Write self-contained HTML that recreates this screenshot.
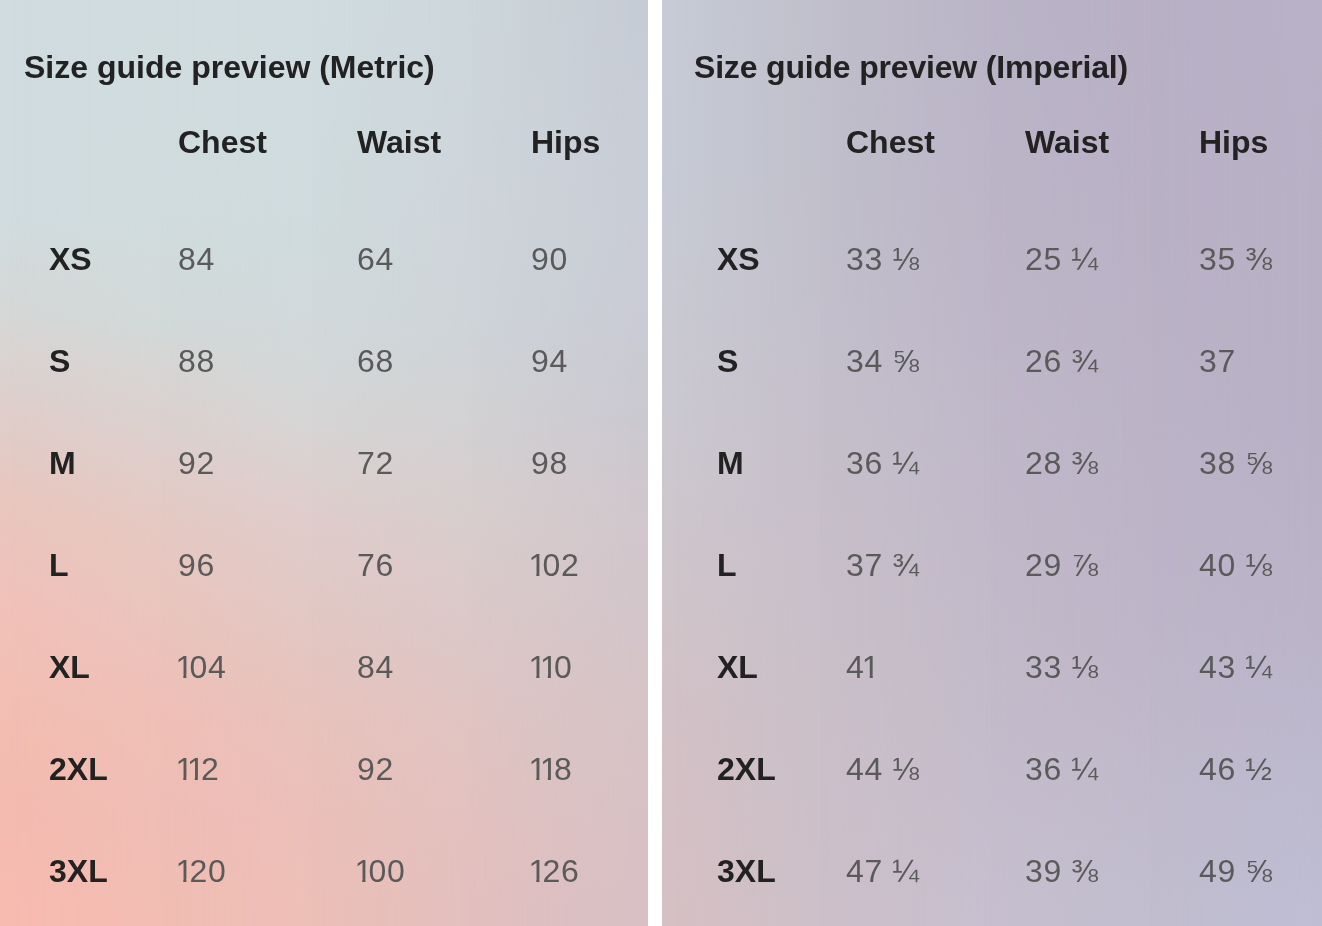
<!DOCTYPE html>
<html><head><meta charset="utf-8"><style>
html,body{margin:0;padding:0;width:1322px;height:926px;overflow:hidden;background:#fff}
.pn{position:absolute;top:0;height:926px;overflow:hidden}
.g{position:absolute;left:0;top:0;width:100%;height:100%}
.b,.v{position:absolute;will-change:transform;font-family:"Liberation Sans",sans-serif;font-size:32px;line-height:normal;white-space:nowrap}
.b{font-weight:bold;color:#222}
.v{font-weight:normal;color:#5a5a5a;letter-spacing:0.6px}
.o{display:inline-block;width:11.5px;text-indent:-2.6px;letter-spacing:0;clip-path:polygon(-20px -20px,40px -20px,40px 26px,8.4px 26px,8.4px 50px,5.3px 50px,5.3px 26px,-20px 26px)}
</style></head><body>
<div class="pn" style="left:0px;width:648px"><div class="g" style="background:linear-gradient(to bottom,#d0dcdf 1.08%,#d0dcdf 22.68%,#d6d7d6 34.56%,#e0cdc9 45.36%,#eac5bd 56.16%,#f1c1b8 66.95%,#f3bdb2 77.75%,#f4bbb0 88.55%,#f8bbb0 98.27%)"></div><div class="g" style="background:linear-gradient(to bottom,#d0dcdf 1.08%,#d0dcdd 22.68%,#d2d9d9 34.56%,#dbd1cf 45.36%,#e5c9c3 56.16%,#eac4bd 66.95%,#efbfb6 77.75%,#f0bdb5 88.55%,#f2bdb3 98.27%);-webkit-mask-image:linear-gradient(to right,transparent 1.54%,#000 24.69%);mask-image:linear-gradient(to right,transparent 1.54%,#000 24.69%)"></div><div class="g" style="background:linear-gradient(to bottom,#d0dcdf 1.08%,#cfdbdd 22.68%,#d1d9db 34.56%,#d6d5d5 45.36%,#dfcccb 56.16%,#e2c7c3 66.95%,#e8c2bc 77.75%,#ebbfb9 88.55%,#ecbfb7 98.27%);-webkit-mask-image:linear-gradient(to right,transparent 24.69%,#000 47.84%);mask-image:linear-gradient(to right,transparent 24.69%,#000 47.84%)"></div><div class="g" style="background:linear-gradient(to bottom,#cdd7db 1.08%,#ced5da 22.68%,#ced4d8 34.56%,#d2d1d3 45.36%,#d8cdcd 56.16%,#dbc8c8 66.95%,#e0c4c2 77.75%,#e2c1bf 88.55%,#e2bfbe 98.27%);-webkit-mask-image:linear-gradient(to right,transparent 47.84%,#000 72.53%);mask-image:linear-gradient(to right,transparent 47.84%,#000 72.53%)"></div><div class="g" style="background:linear-gradient(to bottom,#c6ccd5 1.08%,#c9cdd6 22.68%,#cacbd5 34.56%,#cbc9d0 45.36%,#d1c7cc 56.16%,#d3c5ca 66.95%,#d6c3c6 77.75%,#d8c1c4 88.55%,#d8c0c4 98.27%);-webkit-mask-image:linear-gradient(to right,transparent 72.53%,#000 97.22%);mask-image:linear-gradient(to right,transparent 72.53%,#000 97.22%)"></div></div>
<div class="pn" style="left:662px;width:660px"><div class="g" style="background:linear-gradient(to bottom,#c6cbd5 1.08%,#c7cad4 22.68%,#c9c9d2 34.56%,#cbc8d0 45.36%,#d0c4c9 66.95%,#d2c1c6 77.75%,#d5c0c4 98.27%)"></div><div class="g" style="background:linear-gradient(to bottom,#c0bfcb 1.08%,#c1bfcb 22.68%,#c3bfcc 34.56%,#c5bfcb 45.36%,#c9bfc9 66.95%,#cbbfc8 77.75%,#cdbfc8 98.27%);-webkit-mask-image:linear-gradient(to right,transparent 1.97%,#000 23.94%);mask-image:linear-gradient(to right,transparent 1.97%,#000 23.94%)"></div><div class="g" style="background:linear-gradient(to bottom,#bab4c7 1.08%,#bcb5c7 22.68%,#bdb6c8 34.56%,#bfb8c9 45.36%,#c2bac9 66.95%,#c3bbca 77.75%,#c6bfcf 98.27%);-webkit-mask-image:linear-gradient(to right,transparent 23.94%,#000 49.70%);mask-image:linear-gradient(to right,transparent 23.94%,#000 49.70%)"></div><div class="g" style="background:linear-gradient(to bottom,#b8b0c5 1.08%,#b9b1c5 22.68%,#bab2c5 34.56%,#bbb3c6 45.36%,#bdb5c8 66.95%,#bfb8ca 77.75%,#c1bdce 98.27%);-webkit-mask-image:linear-gradient(to right,transparent 49.70%,#000 73.94%);mask-image:linear-gradient(to right,transparent 49.70%,#000 73.94%)"></div><div class="g" style="background:linear-gradient(to bottom,#b8b1c7 1.08%,#b8b1c6 22.68%,#b8b1c6 34.56%,#b8b1c6 45.36%,#bbb4c9 66.95%,#bcb7cc 77.75%,#bebdd3 98.27%);-webkit-mask-image:linear-gradient(to right,transparent 73.94%,#000 98.18%);mask-image:linear-gradient(to right,transparent 73.94%,#000 98.18%)"></div></div>
<div class="b" style="left:24px;top:49px;">Size guide preview (Metric)</div><div class="b" style="left:178px;top:124px;">Chest</div><div class="b" style="left:357px;top:124px;">Waist</div><div class="b" style="left:531px;top:124px;">Hips</div><div class="b" style="left:49px;top:241px;">XS</div><div class="v" style="left:178px;top:241px;">84</div><div class="v" style="left:357px;top:241px;">64</div><div class="v" style="left:531px;top:241px;">90</div><div class="b" style="left:49px;top:343px;">S</div><div class="v" style="left:178px;top:343px;">88</div><div class="v" style="left:357px;top:343px;">68</div><div class="v" style="left:531px;top:343px;">94</div><div class="b" style="left:49px;top:445px;">M</div><div class="v" style="left:178px;top:445px;">92</div><div class="v" style="left:357px;top:445px;">72</div><div class="v" style="left:531px;top:445px;">98</div><div class="b" style="left:49px;top:547px;">L</div><div class="v" style="left:178px;top:547px;">96</div><div class="v" style="left:357px;top:547px;">76</div><div class="v" style="left:531px;top:547px;"><span class="o">1</span>02</div><div class="b" style="left:49px;top:649px;">XL</div><div class="v" style="left:178px;top:649px;"><span class="o">1</span>04</div><div class="v" style="left:357px;top:649px;">84</div><div class="v" style="left:531px;top:649px;"><span class="o">1</span><span class="o">1</span>0</div><div class="b" style="left:49px;top:751px;">2XL</div><div class="v" style="left:178px;top:751px;"><span class="o">1</span><span class="o">1</span>2</div><div class="v" style="left:357px;top:751px;">92</div><div class="v" style="left:531px;top:751px;"><span class="o">1</span><span class="o">1</span>8</div><div class="b" style="left:49px;top:853px;">3XL</div><div class="v" style="left:178px;top:853px;"><span class="o">1</span>20</div><div class="v" style="left:357px;top:853px;"><span class="o">1</span>00</div><div class="v" style="left:531px;top:853px;"><span class="o">1</span>26</div>
<div class="b" style="left:693.5px;top:49px;letter-spacing:-0.18px">Size guide preview (Imperial)</div><div class="b" style="left:846px;top:124px;">Chest</div><div class="b" style="left:1025px;top:124px;">Waist</div><div class="b" style="left:1199px;top:124px;">Hips</div><div class="b" style="left:717px;top:241px;">XS</div><div class="v" style="left:846px;top:241px;">33 ⅛</div><div class="v" style="left:1025px;top:241px;">25 ¼</div><div class="v" style="left:1199px;top:241px;">35 ⅜</div><div class="b" style="left:717px;top:343px;">S</div><div class="v" style="left:846px;top:343px;">34 ⅝</div><div class="v" style="left:1025px;top:343px;">26 ¾</div><div class="v" style="left:1199px;top:343px;">37</div><div class="b" style="left:717px;top:445px;">M</div><div class="v" style="left:846px;top:445px;">36 ¼</div><div class="v" style="left:1025px;top:445px;">28 ⅜</div><div class="v" style="left:1199px;top:445px;">38 ⅝</div><div class="b" style="left:717px;top:547px;">L</div><div class="v" style="left:846px;top:547px;">37 ¾</div><div class="v" style="left:1025px;top:547px;">29 ⅞</div><div class="v" style="left:1199px;top:547px;">40 ⅛</div><div class="b" style="left:717px;top:649px;">XL</div><div class="v" style="left:846px;top:649px;">4<span class="o">1</span></div><div class="v" style="left:1025px;top:649px;">33 ⅛</div><div class="v" style="left:1199px;top:649px;">43 ¼</div><div class="b" style="left:717px;top:751px;">2XL</div><div class="v" style="left:846px;top:751px;">44 ⅛</div><div class="v" style="left:1025px;top:751px;">36 ¼</div><div class="v" style="left:1199px;top:751px;">46 ½</div><div class="b" style="left:717px;top:853px;">3XL</div><div class="v" style="left:846px;top:853px;">47 ¼</div><div class="v" style="left:1025px;top:853px;">39 ⅜</div><div class="v" style="left:1199px;top:853px;">49 ⅝</div>
</body></html>
